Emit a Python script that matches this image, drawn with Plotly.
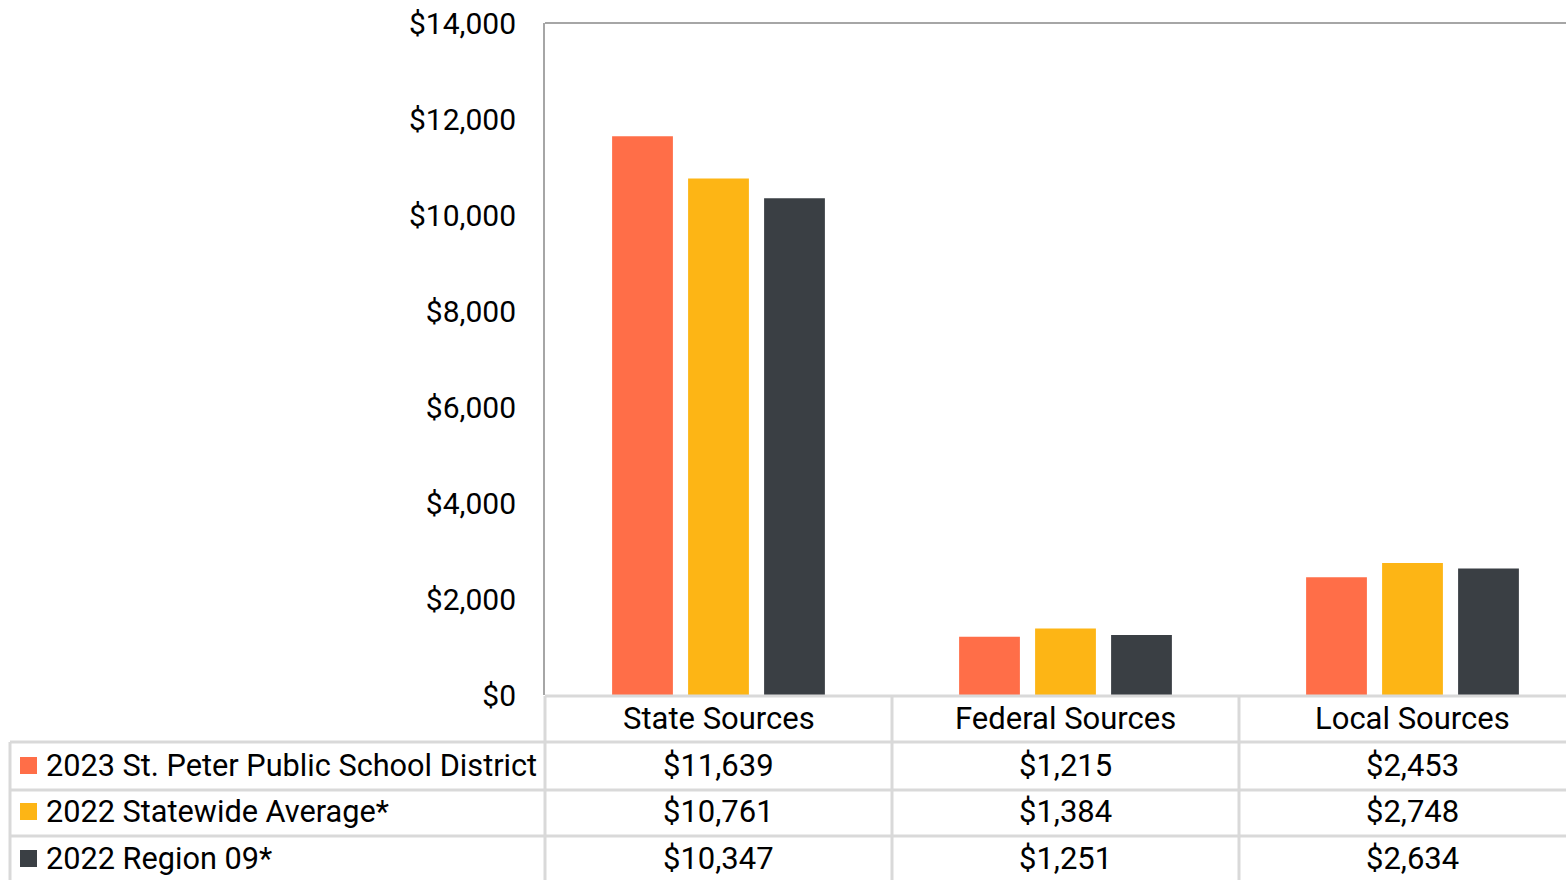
import plotly.graph_objects as go

categories = ["State Sources", "Federal Sources", "Local Sources"]
series_names = ["2023 St. Peter Public School District", "2022 Statewide Average*", "2022 Region 09*"]
district_2023 = [11639, 1215, 2453]
statewide_2022 = [10761, 1384, 2748]
region09_2022 = [10347, 1251, 2634]
tick_values = [0, 2000, 4000, 6000, 8000, 10000, 12000, 14000]
tick_labels = ["$0", "$2,000", "$4,000", "$6,000", "$8,000", "$10,000", "$12,000", "$14,000"]

series_values = [district_2023, statewide_2022, region09_2022]
colors = ["#FF6E48", "#FDB515", "#3A3F44"]

W, H = 1566, 880
L, R_EDGE, T, B = 545, 1566, 23, 695  # plot area in pixels
CAT_W = 347.0

FONT = "Roboto"
FS = 31
FS_LEG = 30.7
FS_TICK = 30
GRID = "#D9D9D9"
AXIS = "#A6A6A6"


def px(x):
    return (x - L) / (R_EDGE - L)


def py(y):
    return (B - y) / (B - T)


fig = go.Figure()
for name, vals, col in zip(series_names, series_values, colors):
    fig.add_trace(go.Bar(x=categories, y=vals, name=name, marker=dict(color=col, line=dict(width=0))))

shapes = []
shapes.append(dict(type="line", xref="paper", yref="paper", x0=0, x1=1, y0=1, y1=1,
                   line=dict(color=AXIS, width=2)))
shapes.append(dict(type="line", xref="paper", yref="paper", x0=0, x1=1, y0=py(696), y1=py(696),
                   line=dict(color=GRID, width=3)))
for yy in [742, 790, 836]:
    shapes.append(dict(type="line", xref="paper", yref="paper", x0=px(10), x1=1, y0=py(yy), y1=py(yy),
                       line=dict(color=GRID, width=3)))
shapes.append(dict(type="line", xref="paper", yref="paper", x0=px(10), x1=px(10), y0=py(742), y1=py(885),
                   line=dict(color=GRID, width=3)))
shapes.append(dict(type="line", xref="paper", yref="paper", x0=0, x1=0, y0=py(696), y1=py(885),
                   line=dict(color=GRID, width=3)))
for i in range(1, len(categories)):
    shapes.append(dict(type="line", xref="x", yref="paper", x0=i - 0.5, x1=i - 0.5, y0=py(696), y1=py(885),
                       line=dict(color=GRID, width=3)))

annotations = []
for i, c in enumerate(categories):
    annotations.append(dict(x=c, xref="x", y=py(718), yref="paper", text=c, showarrow=False,
                            xanchor="center", yanchor="middle", font=dict(family=FONT, size=FS, color="#000")))
row_centers = [765, 811, 858]
for r, (name, vals, col) in enumerate(zip(series_names, series_values, colors)):
    yc = row_centers[r]
    shapes.append(dict(type="rect", xref="paper", yref="paper", x0=px(20), x1=px(37),
                       y0=py(yc - 8), y1=py(yc + 9), fillcolor=col, line=dict(width=0)))
    annotations.append(dict(x=px(44), xref="paper", y=py(yc), yref="paper", text=name, showarrow=False,
                            xanchor="left", yanchor="middle", font=dict(family=FONT, size=FS_LEG, color="#000")))
    for i, c in enumerate(categories):
        annotations.append(dict(x=c, xref="x", y=py(yc), yref="paper", text="${:,}".format(vals[i]),
                                showarrow=False, xanchor="center", yanchor="middle",
                                font=dict(family=FONT, size=FS, color="#000")))

fig.update_layout(
    width=W, height=H,
    margin=dict(l=L, r=W - R_EDGE, t=T, b=H - B, pad=0),
    paper_bgcolor="white", plot_bgcolor="white",
    barmode="group", bargap=0.343, bargroupgap=0.2,
    showlegend=False,
    shapes=shapes, annotations=annotations,
    font=dict(family=FONT, size=FS, color="#000"),
)
fig.update_xaxes(range=[-0.5, -0.5 + (R_EDGE - L) / CAT_W], showticklabels=False, showline=False,
                 showgrid=False, zeroline=False, ticks="")
fig.update_yaxes(range=[0, 14000], tickvals=tick_values, ticktext=tick_labels, showgrid=False,
                 zeroline=False, showline=True, linecolor=AXIS, linewidth=2, ticks="",
                 ticklabelstandoff=21, tickfont=dict(family=FONT, size=FS_TICK, color="#000"))

fig.write_html("out.html", config={"displayModeBar": False},
               post_script="document.body.style.margin='0px';document.body.style.overflow='hidden';")
